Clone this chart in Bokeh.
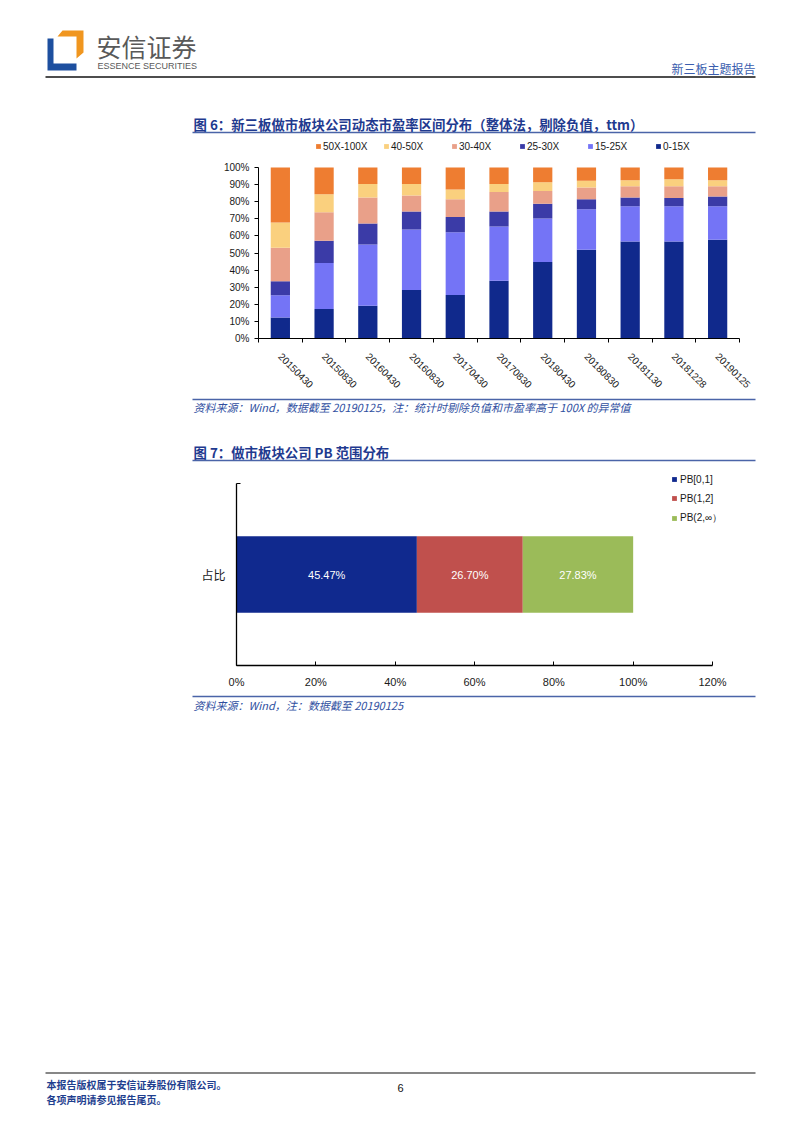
import numpy as np
from bokeh.plotting import figure
from bokeh.models import (Range1d, FixedTicker, PrintfTickFormatter, Legend,
                          LegendItem, ColumnDataSource)
from bokeh.core.properties import value
from bokeh.embed import file_html
from bokeh.resources import INLINE

# ---------------- data ----------------
dates = ["20150430", "20150830", "20160430", "20160830", "20170430", "20170830",
         "20180430", "20180830", "20181130", "20181228", "20190125"]
pe_0_15 = [12.3, 17.3, 19.1, 28.3, 25.5, 33.7, 44.8, 51.9, 56.7, 56.7, 57.7]
pe_15_25 = [13.0, 26.9, 35.9, 35.4, 36.7, 31.8, 25.4, 23.7, 20.7, 20.7, 19.7]
pe_25_30 = [8.2, 12.9, 12.3, 10.6, 8.8, 8.8, 8.6, 5.9, 5.1, 4.7, 5.6]
pe_30_40 = [19.5, 16.8, 15.2, 9.3, 10.5, 11.3, 7.4, 6.8, 6.6, 7.0, 6.1]
pe_40_50 = [14.8, 10.5, 7.8, 6.7, 5.6, 4.7, 5.2, 3.9, 3.5, 4.1, 3.5]
pe_50_100 = [32.2, 15.6, 9.7, 9.7, 12.9, 9.7, 8.6, 7.8, 7.4, 6.8, 7.4]
pe_labels = ["0-15X", "15-25X", "25-30X", "30-40X", "40-50X", "50X-100X"]
y1_ticks = list(range(0, 101, 10))

pb_category = ["占比"]
pb_labels = ["PB[0,1]", "PB(1,2]", "PB(2,∞）"]
pb_values = [45.47, 26.70, 27.83]
x2_ticks = list(range(0, 121, 20))

# ---------------- styles ----------------
pe_colors = ["#10298C", "#7474F6", "#3B3BA7", "#E9A089", "#FAD07E", "#EE7D31"]
pb_colors = ["#10298E", "#C0504D", "#9BBB59"]
TITLE_BLUE = "#1F3A8F"
NOTE_BLUE = "#2F4F9F"
RULE_BLUE = "#4A64A8"
CJK = value("Noto Sans CJK SC")
LAT = "Liberation Sans"
W = 802


def chrome(h):
    f = figure(width=W, height=h, x_range=Range1d(0, W), y_range=Range1d(h, 0),
               x_axis_type=None, y_axis_type=None, output_backend="svg",
               toolbar_location=None, min_border=0, outline_line_color=None)
    return f


def txt(f, x, y, s, size, color, font=CJK, style="normal", align="left"):
    f.text(x=[x], y=[y], text=[s], text_font=font, text_font_size=size,
           text_font_style=style, text_color=color, text_align=align,
           text_baseline="middle")


def rule(f, x0, x1, y, color, width):
    f.segment(x0=[x0], y0=[y], x1=[x1], y1=[y], line_color=color, line_width=width)


# ---------------- page top (y 0..136) ----------------
top = chrome(136)
top.patches(xs=[[47, 53, 53, 76, 76, 47], [57, 62, 83, 83, 76, 76]],
            ys=[[38, 38, 63, 63, 70, 70], [36, 30, 30, 52, 58, 36]],
            fill_color=["#1D4F9F", "#F0961F"], line_color=None)
txt(top, 96, 45, "安信证券", "25px", "#595959")
txt(top, 97, 65, "ESSENCE SECURITIES", "9px", "#595959", font=value(LAT))
txt(top, 755, 68, "新三板主题报告", "12px", "#3A5DAE", align="right")
rule(top, 45, 755, 76.5, "#4D4D4D", 2)
txt(top, 193, 123,
    "图 6：新三板做市板块公司动态市盈率区间分布（整体法，剔除负值，ttm）",
    "13.4px", TITLE_BLUE, style="bold")
rule(top, 192, 755, 132, RULE_BLUE, 1.5)

# ---------------- chart 1 (y 136..394) ----------------
# frame spans y 136..338 (0% at 338, 100% at 167); legend sits in the top strip
x_idx = list(range(len(dates)))
keys = ["p0", "p1", "p2", "p3", "p4", "p5"]
src1 = ColumnDataSource(dict(x=x_idx, p0=pe_0_15, p1=pe_15_25, p2=pe_25_30,
                             p3=pe_30_40, p4=pe_40_50, p5=pe_50_100))
y1_top = 100 * (338 - 136) / (338 - 167)
p1 = figure(frame_width=481, frame_height=202, x_range=Range1d(-0.5, len(dates) - 0.5),
            y_range=Range1d(0, y1_top), output_backend="svg", toolbar_location=None,
            min_border_left=258, min_border_right=63, min_border_top=0,
            min_border_bottom=56, outline_line_color=None)
rs1 = p1.vbar_stack(keys, x="x", width=0.44, fill_color=pe_colors, line_color=None,
                    source=src1)
p1.xgrid.grid_line_color = None
p1.ygrid.grid_line_color = None

p1.xaxis.ticker = FixedTicker(ticks=x_idx, minor_ticks=[i - 0.5 for i in range(len(dates) + 1)])
p1.xaxis.major_label_overrides = {i: d for i, d in enumerate(dates)}
p1.xaxis.major_tick_in = 0
p1.xaxis.major_tick_out = 0
p1.xaxis.minor_tick_in = 0
p1.xaxis.minor_tick_out = 4
p1.xaxis.major_label_orientation = -np.pi / 4
p1.xaxis.major_label_standoff = 12

p1.yaxis.ticker = FixedTicker(ticks=y1_ticks)
p1.yaxis.bounds = (0, 100)
p1.yaxis.formatter = PrintfTickFormatter(format="%d%%")
p1.yaxis.major_tick_in = 0
p1.yaxis.major_tick_out = 4
p1.yaxis.minor_tick_line_color = None
p1.yaxis.major_label_standoff = 5
for ax in (p1.xaxis, p1.yaxis):
    ax.axis_line_color = "#000000"
    ax.major_tick_line_color = "#000000"
    ax.major_label_text_font = LAT
    ax.major_label_text_font_size = "10px"
    ax.major_label_text_color = "#1A1A1A"

items1 = [LegendItem(label=lab, renderers=[r]) for lab, r in
          reversed(list(zip(pe_labels, rs1)))]
leg1 = Legend(items=items1, orientation="horizontal", location=(57, 186),
              glyph_width=6, glyph_height=6, label_standoff=2, label_width=56,
              spacing=4, padding=0, margin=0, border_line_color=None,
              background_fill_alpha=0, label_text_font=LAT,
              label_text_font_size="10px", label_height=12, label_text_color="#1A1A1A")
p1.add_layout(leg1)

# ---------------- middle (y 394..470) ----------------
mid = chrome(76)
oy = 394
rule(mid, 192, 755, 399 - oy, RULE_BLUE, 1.5)
txt(mid, 193, 406 - oy,
    "资料来源：Wind，数据截至 20190125，注：统计时剔除负值和市盈率高于 100X 的异常值",
    "11px", NOTE_BLUE, style="italic")
txt(mid, 193, 451 - oy, "图 7：做市板块公司 PB 范围分布", "13.4px", TITLE_BLUE,
    style="bold")
rule(mid, 192, 755, 460 - oy, RULE_BLUE, 1.5)

# ---------------- chart 2 (y 470..692) ----------------
# frame spans y 470..665 and x 236..760; the axes (bounds) cover 483..665 and 0..120%
src2 = ColumnDataSource(dict(y=[0], b0=[pb_values[0]], b1=[pb_values[1]], b2=[pb_values[2]]))
y2_top = 0.5 + (483 - 470) / (665 - 483)
x2_end = 120 * (760 - 236) / (712 - 236)
p2 = figure(frame_width=524, frame_height=195, x_range=Range1d(0, x2_end),
            y_range=Range1d(-0.5, y2_top), output_backend="svg", toolbar_location=None,
            min_border_left=236, min_border_right=42, min_border_top=0,
            min_border_bottom=27, outline_line_color=None)
rs2 = p2.hbar_stack(["b0", "b1", "b2"], y="y", height=0.42, fill_color=pb_colors,
                    line_color=None, source=src2)
cum = np.cumsum(pb_values)
centers = list(cum - np.array(pb_values) / 2)
p2.text(x=centers, y=[0] * len(pb_values), text=[f"{v:.2f}%" for v in pb_values],
        text_color="white", text_font=value(LAT), text_font_size="11px",
        text_align="center", text_baseline="middle")
p2.xgrid.grid_line_color = None
p2.ygrid.grid_line_color = None

p2.xaxis.ticker = FixedTicker(ticks=x2_ticks)
p2.xaxis.bounds = (0, 120)
p2.xaxis.formatter = PrintfTickFormatter(format="%d%%")
p2.xaxis.major_tick_in = 4
p2.xaxis.major_tick_out = 0
p2.xaxis.minor_tick_line_color = None
p2.xaxis.major_label_standoff = 10
p2.xaxis.major_label_text_font = LAT
p2.xaxis.major_label_text_font_size = "11px"

p2.yaxis.ticker = FixedTicker(ticks=[0], minor_ticks=[-0.5, 0.5])
p2.yaxis.bounds = (-0.5, 0.5)
p2.yaxis.major_label_overrides = {0: pb_category[0]}
p2.yaxis.major_tick_in = 0
p2.yaxis.major_tick_out = 0
p2.yaxis.minor_tick_in = 4
p2.yaxis.minor_tick_out = 0
p2.yaxis.minor_tick_line_color = "#000000"
p2.yaxis.major_label_standoff = 11
p2.yaxis.major_label_text_font = "Noto Sans CJK SC"
p2.yaxis.major_label_text_font_size = "12px"
for ax in (p2.xaxis, p2.yaxis):
    ax.axis_line_color = "#000000"
    ax.axis_line_width = 1.3
    ax.major_tick_line_color = "#000000"
    ax.major_label_text_color = "#1A1A1A"

items2 = [LegendItem(label=lab, renderers=[r]) for lab, r in zip(pb_labels, rs2)]
leg2 = Legend(items=items2, orientation="vertical", location=(435, 140),
              glyph_width=6, glyph_height=6, label_standoff=3, spacing=7,
              padding=0, margin=0, border_line_color=None, background_fill_alpha=0,
              label_text_font=LAT, label_text_font_size="10px", label_height=12,
              label_text_color="#1A1A1A")
p2.add_layout(leg2)

# ---------------- bottom (y 692..1127) ----------------
bot = chrome(435)
oy = 692
rule(bot, 192, 755, 696 - oy, RULE_BLUE, 1.5)
txt(bot, 193, 704 - oy, "资料来源：Wind，注：数据截至 20190125", "11px", NOTE_BLUE,
    style="italic")
rule(bot, 45, 755, 1072.5 - oy, "#111111", 1.2)
txt(bot, 46, 1084 - oy, "本报告版权属于安信证券股份有限公司。", "10px", "#1F3F8F",
    style="bold")
txt(bot, 46, 1099 - oy, "各项声明请参见报告尾页。", "10px", "#1F3F8F", style="bold")
txt(bot, 400, 1087 - oy, "6", "11px", "#111111", font=value(LAT), align="center")

page = [top, p1, mid, p2, bot]
open("out.html", "w").write(file_html(page, INLINE))
